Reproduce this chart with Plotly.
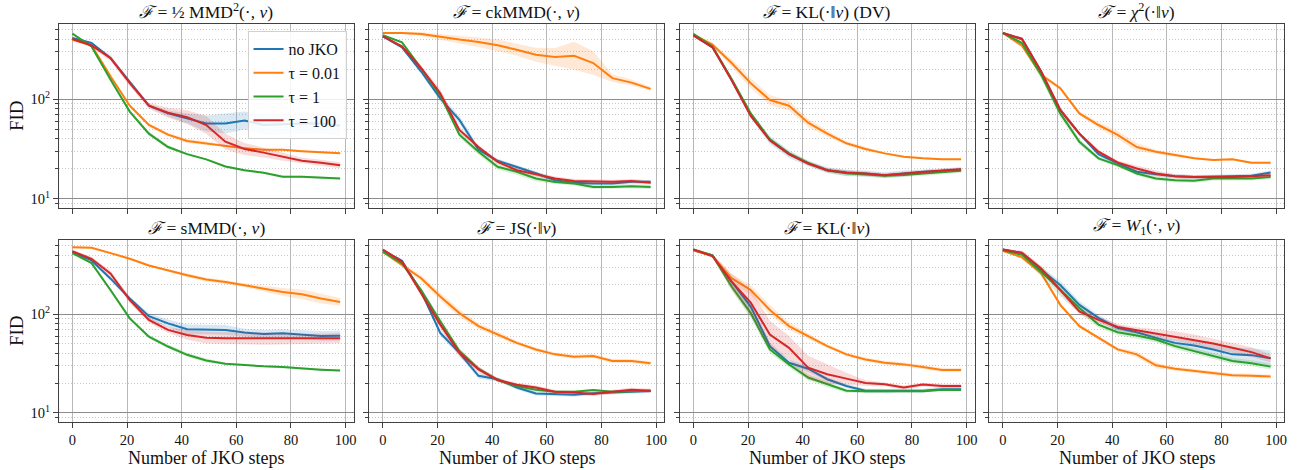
import plotly.graph_objects as go

# ---------------- data ----------------
steps = [0, 7, 14, 21, 28, 35, 42, 49, 56, 63, 70, 77, 84, 91, 98]
series_names = ["no JKO", "τ = 0.01", "τ = 1", "τ = 100"]
series_colors = ["#1f77b4", "#ff7f0e", "#2ca02c", "#d62728"]
band_colors = ["rgba(31,119,180,0.17)", "rgba(255,127,14,0.17)", "rgba(44,160,44,0.17)", "rgba(214,39,40,0.17)"]

panel_titles = [
    "<i>ℱ</i> = ½ MMD<sup>2</sup>(·, <i>ν</i>)",
    "<i>ℱ</i> = ckMMD(·, <i>ν</i>)",
    "<i>ℱ</i> = KL(·‖<i>ν</i>) (DV)",
    "<i>ℱ</i> = <i>χ</i><sup>2</sup>(·‖<i>ν</i>)",
    "<i>ℱ</i> = sMMD(·, <i>ν</i>)",
    "<i>ℱ</i> = JS(·‖<i>ν</i>)",
    "<i>ℱ</i> = KL(·‖<i>ν</i>)",
    "<i>ℱ</i> = <i>W</i><sub>1</sub>(·, <i>ν</i>)",
]

# FID values (mean) per panel and series
mmd2_nojko = [413, 368, 259, 151, 86, 72, 64, 57, 57, 61, 55, 56, 57, 57, 54]
mmd2_t001 = [397, 348, 169, 86, 55, 44, 38, 36, 34, 32, 31, 31, 30, 29, 28.5]
mmd2_t1 = [457, 340, 157, 75, 45, 33, 28, 24.8, 21, 19.3, 18.2, 16.6, 16.6, 16.2, 15.9]
mmd2_t100 = [404, 348, 259, 145, 86, 73, 66, 55, 37.4, 31.6, 29, 26.3, 24, 22.9, 21.6]

ckmmd_nojko = [430, 333, 190, 102, 62, 31, 24, 20.9, 18, 15.3, 14.4, 14.2, 14.2, 14.8, 14.8]
ckmmd_t001 = [464, 464, 454, 423, 398, 377, 349, 315, 280, 266, 274, 231, 163, 147, 127]
ckmmd_t1 = [440, 373, 205, 110, 44, 29.6, 20.9, 18.6, 15.9, 14.7, 14.2, 13.1, 13.1, 13.3, 13.1]
ckmmd_t100 = [430, 340, 205, 115, 49, 33, 23.4, 19.3, 17.6, 15.9, 15.0, 14.8, 14.8, 15.0, 14.4]

kldv_nojko = [440, 333, 157, 69.5, 38.8, 28, 22.6, 19.3, 18.2, 17.9, 17.2, 17.9, 18.6, 19, 19.6]
kldv_t001 = [447, 354, 231, 145, 98, 86, 58, 45, 36, 31.5, 28.5, 26.4, 25.4, 24.8, 24.8]
kldv_t1 = [455, 340, 160, 72, 39.5, 28.5, 22.8, 19.3, 18.0, 17.5, 17.0, 17.3, 17.8, 18.3, 19.0]
kldv_t100 = [440, 333, 155, 68, 38.5, 28, 22.5, 19.3, 18.3, 17.9, 17.2, 17.9, 18.6, 19.2, 19.7]

chi2_nojko = [464, 404, 190, 78, 45, 28, 22.6, 18.6, 17.6, 16.8, 16.5, 16.6, 16.8, 17.0, 18.3]
chi2_t001 = [464, 346, 176, 129, 72, 55, 43.7, 33, 29.6, 27.4, 25.4, 24.4, 24.8, 22.9, 22.9]
chi2_t1 = [464, 368, 176, 72, 37.3, 25.4, 21.7, 17.9, 15.9, 15.3, 15.1, 15.9, 15.9, 15.9, 16.5]
chi2_t100 = [464, 404, 190, 78, 45, 29.6, 23.1, 20.1, 17.9, 16.8, 16.5, 16.5, 16.5, 16.8, 17.2]

smmd_nojko = [430, 354, 231, 145, 96, 81, 70.5, 70.5, 69.5, 65.3, 63.3, 64.3, 62.8, 60.4, 60.8]
smmd_t001 = [483, 476, 420, 368, 315, 280, 250, 226, 214, 198, 183, 169, 160, 145, 134]
smmd_t1 = [420, 333, 176, 91, 59.4, 47.1, 38.8, 34, 31.5, 30.3, 29.6, 29.2, 28.1, 27.4, 26.8]
smmd_t100 = [439, 368, 259, 140, 88, 69.5, 61.8, 58, 57.2, 57.2, 56.4, 56.6, 56.4, 56.6, 57.2]

js_nojko = [450, 351, 171, 64.7, 40.6, 23.7, 21.9, 18, 15.7, 15.4, 15.2, 15.8, 16, 16.3, 16.6]
js_t001 = [433, 318, 233, 152, 103, 76, 62.4, 51.3, 44, 39.2, 37.1, 37.7, 33.5, 33.5, 31.8]
js_t1 = [433, 330, 177, 85, 42.3, 28, 21.5, 18.7, 17.1, 16.3, 16.3, 17, 16.3, 16.6, 16.7]
js_t100 = [457, 343, 164, 78.7, 40.6, 27.6, 21.5, 19.2, 18, 16.3, 16, 15.5, 16.3, 17.1, 16.7]

kl_nojko = [450, 398, 215, 120, 47.5, 32.2, 28, 21.9, 18.7, 16.7, 16.7, 16.7, 16.7, 17.3, 17.3]
kl_t001 = [450, 392, 233, 177, 111, 76, 60, 47.5, 39.2, 34.8, 32.2, 31, 29.2, 27.2, 27.2]
kl_t1 = [457, 398, 192, 103, 44, 31, 22.8, 19.5, 16.7, 16.5, 16.5, 16.7, 16.5, 17.1, 17]
kl_t100 = [457, 392, 215, 132, 62.4, 45.7, 28.7, 24.6, 22.2, 20, 19.5, 18, 19.3, 18.7, 18.7]

w1_nojko = [457, 423, 283, 199, 125, 92, 72.8, 65.8, 57.7, 51.3, 48.3, 44, 39.2, 38.5, 35.7]
w1_t001 = [443, 380, 262, 125, 76, 57.7, 44, 39.2, 30.3, 28, 26.5, 25.2, 24, 23.7, 23.3]
w1_t1 = [450, 404, 272, 177, 116, 78.7, 65.8, 60.9, 55.5, 47.5, 42.3, 37.7, 33.5, 31.8, 29.4]
w1_t100 = [457, 423, 294, 177, 107, 88, 74.5, 68.9, 63.8, 60, 55.5, 50.6, 45.7, 41.3, 35.7]

# half-width of the shaded band (log10 units)
mmd2_nojko_sd = [0.01, 0.01, 0.02, 0.02, 0.02, 0.03, 0.05, 0.08, 0.1, 0.09, 0.1, 0.1, 0.1, 0.1, 0.1]
mmd2_t001_sd = [0.01, 0.01, 0.02, 0.02, 0.02, 0.02, 0.02, 0.02, 0.01, 0.01, 0.01, 0.01, 0.01, 0.01, 0.01]
mmd2_t1_sd = [0.01, 0.01, 0.02, 0.02, 0.02, 0.02, 0.01, 0.01, 0.01, 0.01, 0.01, 0.01, 0.01, 0.01, 0.01]
mmd2_t100_sd = [0.01, 0.02, 0.03, 0.03, 0.03, 0.05, 0.07, 0.09, 0.08, 0.06, 0.05, 0.04, 0.03, 0.03, 0.03]

ckmmd_nojko_sd = [0.01, 0.01, 0.02, 0.03, 0.04, 0.03, 0.02, 0.02, 0.02, 0.02, 0.02, 0.02, 0.02, 0.02, 0.02]
ckmmd_t001_sd = [0.01, 0.01, 0.02, 0.03, 0.04, 0.05, 0.06, 0.06, 0.07, 0.09, 0.14, 0.12, 0.04, 0.03, 0.02]
ckmmd_t1_sd = [0.01, 0.01, 0.02, 0.03, 0.03, 0.03, 0.03, 0.03, 0.03, 0.02, 0.02, 0.02, 0.02, 0.02, 0.02]
ckmmd_t100_sd = [0.01, 0.01, 0.03, 0.04, 0.03, 0.02, 0.02, 0.02, 0.02, 0.02, 0.02, 0.02, 0.02, 0.02, 0.02]

kldv_nojko_sd = [0.01, 0.01, 0.02, 0.03, 0.04, 0.04, 0.03, 0.03, 0.03, 0.03, 0.03, 0.03, 0.02, 0.02, 0.02]
kldv_t001_sd = [0.01, 0.02, 0.04, 0.05, 0.05, 0.05, 0.04, 0.03, 0.02, 0.02, 0.01, 0.01, 0.01, 0.01, 0.01]
kldv_t1_sd = [0.01, 0.01, 0.02, 0.02, 0.02, 0.02, 0.02, 0.02, 0.03, 0.02, 0.02, 0.02, 0.02, 0.02, 0.02]
kldv_t100_sd = [0.01, 0.01, 0.02, 0.02, 0.02, 0.02, 0.02, 0.02, 0.02, 0.02, 0.02, 0.02, 0.02, 0.02, 0.02]

chi2_nojko_sd = [0.01, 0.01, 0.02, 0.02, 0.02, 0.02, 0.02, 0.02, 0.02, 0.02, 0.02, 0.02, 0.02, 0.02, 0.02]
chi2_t001_sd = [0.01, 0.02, 0.02, 0.02, 0.02, 0.03, 0.04, 0.04, 0.02, 0.02, 0.01, 0.01, 0.01, 0.01, 0.01]
chi2_t1_sd = [0.01, 0.02, 0.04, 0.04, 0.03, 0.02, 0.02, 0.02, 0.02, 0.02, 0.02, 0.02, 0.02, 0.02, 0.02]
chi2_t100_sd = [0.01, 0.02, 0.02, 0.03, 0.02, 0.02, 0.02, 0.03, 0.03, 0.02, 0.02, 0.02, 0.02, 0.02, 0.02]

smmd_nojko_sd = [0.01, 0.01, 0.02, 0.02, 0.03, 0.04, 0.05, 0.05, 0.05, 0.04, 0.04, 0.04, 0.04, 0.05, 0.05]
smmd_t001_sd = [0.01, 0.01, 0.01, 0.01, 0.01, 0.01, 0.02, 0.02, 0.02, 0.02, 0.03, 0.04, 0.05, 0.05, 0.04]
smmd_t1_sd = [0.01, 0.01, 0.02, 0.02, 0.02, 0.02, 0.02, 0.02, 0.01, 0.01, 0.01, 0.01, 0.01, 0.01, 0.01]
smmd_t100_sd = [0.01, 0.02, 0.03, 0.03, 0.03, 0.03, 0.05, 0.06, 0.06, 0.06, 0.06, 0.06, 0.05, 0.05, 0.05]

js_nojko_sd = [0.01, 0.01, 0.02, 0.03, 0.03, 0.03, 0.02, 0.02, 0.02, 0.02, 0.02, 0.02, 0.02, 0.02, 0.02]
js_t001_sd = [0.01, 0.02, 0.03, 0.04, 0.04, 0.03, 0.03, 0.02, 0.02, 0.02, 0.02, 0.02, 0.02, 0.02, 0.02]
js_t1_sd = [0.01, 0.01, 0.02, 0.03, 0.03, 0.02, 0.02, 0.02, 0.02, 0.01, 0.01, 0.01, 0.01, 0.01, 0.01]
js_t100_sd = [0.01, 0.02, 0.03, 0.04, 0.04, 0.03, 0.02, 0.02, 0.02, 0.02, 0.02, 0.02, 0.02, 0.02, 0.02]

kl_nojko_sd = [0.01, 0.01, 0.03, 0.04, 0.04, 0.03, 0.03, 0.02, 0.02, 0.02, 0.02, 0.02, 0.02, 0.02, 0.02]
kl_t001_sd = [0.01, 0.01, 0.04, 0.05, 0.05, 0.04, 0.03, 0.02, 0.02, 0.02, 0.02, 0.02, 0.02, 0.02, 0.02]
kl_t1_sd = [0.01, 0.01, 0.04, 0.05, 0.04, 0.03, 0.03, 0.03, 0.02, 0.02, 0.02, 0.01, 0.01, 0.01, 0.01]
kl_t100_sd = [0.01, 0.02, 0.08, 0.14, 0.14, 0.12, 0.12, 0.1, 0.06, 0.03, 0.02, 0.02, 0.02, 0.02, 0.02]

w1_nojko_sd = [0.01, 0.02, 0.03, 0.04, 0.04, 0.03, 0.03, 0.03, 0.03, 0.04, 0.05, 0.06, 0.07, 0.07, 0.08]
w1_t001_sd = [0.01, 0.01, 0.02, 0.02, 0.02, 0.02, 0.02, 0.03, 0.03, 0.02, 0.02, 0.02, 0.02, 0.02, 0.02]
w1_t1_sd = [0.01, 0.02, 0.05, 0.06, 0.05, 0.03, 0.03, 0.03, 0.03, 0.03, 0.03, 0.03, 0.03, 0.03, 0.03]
w1_t100_sd = [0.01, 0.02, 0.03, 0.03, 0.03, 0.03, 0.03, 0.03, 0.04, 0.05, 0.05, 0.05, 0.05, 0.05, 0.04]

x_tickvals = [0, 20, 40, 60, 80, 100]
y_tickvals = [10, 100]
y_ticktext = ["10<sup>1</sup>", "10<sup>2</sup>"]
y_minor = [8, 9, 20, 30, 40, 50, 60, 70, 80, 90, 200, 300, 400, 500]

panels = [
    [mmd2_nojko, mmd2_t001, mmd2_t1, mmd2_t100],
    [ckmmd_nojko, ckmmd_t001, ckmmd_t1, ckmmd_t100],
    [kldv_nojko, kldv_t001, kldv_t1, kldv_t100],
    [chi2_nojko, chi2_t001, chi2_t1, chi2_t100],
    [smmd_nojko, smmd_t001, smmd_t1, smmd_t100],
    [js_nojko, js_t001, js_t1, js_t100],
    [kl_nojko, kl_t001, kl_t1, kl_t100],
    [w1_nojko, w1_t001, w1_t1, w1_t100],
]
spreads = [
    [mmd2_nojko_sd, mmd2_t001_sd, mmd2_t1_sd, mmd2_t100_sd],
    [ckmmd_nojko_sd, ckmmd_t001_sd, ckmmd_t1_sd, ckmmd_t100_sd],
    [kldv_nojko_sd, kldv_t001_sd, kldv_t1_sd, kldv_t100_sd],
    [chi2_nojko_sd, chi2_t001_sd, chi2_t1_sd, chi2_t100_sd],
    [smmd_nojko_sd, smmd_t001_sd, smmd_t1_sd, smmd_t100_sd],
    [js_nojko_sd, js_t001_sd, js_t1_sd, js_t100_sd],
    [kl_nojko_sd, kl_t001_sd, kl_t1_sd, kl_t100_sd],
    [w1_nojko_sd, w1_t001_sd, w1_t1_sd, w1_t100_sd],
]

# ---------------- layout geometry (page body margin removed below) ----------------
W, H = 1299, 470
ML, MT = 59, 24
MR = W - 1286
MB = H - 422
PW = W - ML - MR
PH = H - MT - MB
col_px = [59, 370, 681, 991]
panel_w = 295
row_px = [(24, 208), (240, 422)]

FONT = "Liberation Serif, DejaVu Serif, serif"
fig = go.Figure()
layout_axes = {}
annotations = []

for i in range(8):
    r, c = divmod(i, 4)
    n = i + 1
    xa = "x" if n == 1 else f"x{n}"
    ya = "y" if n == 1 else f"y{n}"
    xd = [(col_px[c] - ML) / PW, (col_px[c] + panel_w - ML) / PW]
    top, bot = row_px[r]
    yd = [(H - MB - bot) / PH, (H - MB - top) / PH]
    for s in range(4):
        vals = panels[i][s]
        sd = spreads[i][s]
        upper = [v * 10 ** d for v, d in zip(vals, sd)]
        lower = [v / 10 ** d for v, d in zip(vals, sd)]
        fig.add_trace(go.Scatter(
            x=steps + steps[::-1], y=upper + lower[::-1], fill="toself",
            fillcolor=band_colors[s], line=dict(width=0), mode="lines",
            hoverinfo="skip", showlegend=False, xaxis=xa, yaxis=ya))
        fig.add_trace(go.Scatter(
            x=steps, y=vals, mode="lines", name=series_names[s],
            line=dict(color=series_colors[s], width=2),
            showlegend=(i == 0), xaxis=xa, yaxis=ya))
    common_line = dict(showline=True, mirror=True, linecolor="#404040", linewidth=1,
                       ticks="outside", tickcolor="#404040", ticklen=5, tickwidth=1,
                       zeroline=False, tickfont=dict(family=FONT, size=14.5, color="#111"))
    layout_axes["xaxis" if n == 1 else f"xaxis{n}"] = dict(
        domain=xd, anchor=ya,
        range=[-4.9, 102.9], tickmode="array", tickvals=x_tickvals,
        showticklabels=(r == 1), showgrid=True, gridcolor="#b8b8b8", gridwidth=1,
        **common_line)
    layout_axes["yaxis" if n == 1 else f"yaxis{n}"] = dict(
        domain=yd, anchor=xa, type="log", range=[0.905, 2.757],
        tickmode="array", tickvals=y_tickvals, ticktext=y_ticktext,
        showticklabels=(c == 0), showgrid=True, gridcolor="#8c8c8c", gridwidth=1,
        minor=dict(tickmode="array", tickvals=y_minor, ticks="outside", ticklen=3,
                   tickcolor="#404040", showgrid=True, gridcolor="#c8c8c8",
                   griddash="1px,2px", gridwidth=1),
        **common_line)
    annotations.append(dict(
        text=panel_titles[i], x=(xd[0] + xd[1]) / 2, y=yd[1], xref="paper", yref="paper",
        xanchor="center", yanchor="bottom", yshift=0, showarrow=False,
        font=dict(family=FONT, size=17.5, color="#111")))
    if r == 1:
        annotations.append(dict(
            text="Number of JKO steps", x=(xd[0] + xd[1]) / 2, y=0, xref="paper", yref="paper",
            xanchor="center", yanchor="top", yshift=-24, showarrow=False,
            font=dict(family=FONT, size=18, color="#111")))
    if c == 0:
        annotations.append(dict(
            text="FID", x=(16 - ML) / PW, y=(yd[0] + yd[1]) / 2, xref="paper", yref="paper",
            xanchor="center", yanchor="middle", textangle=-90, showarrow=False,
            font=dict(family=FONT, size=19, color="#111")))

fig.update_layout(
    width=W, height=H,
    margin=dict(l=ML, r=MR, t=MT, b=MB),
    plot_bgcolor="white", paper_bgcolor="white",
    font=dict(family=FONT, color="#111"),
    annotations=annotations,
    legend=dict(x=(347 - ML) / PW, y=(H - MB - 31) / PH, xanchor="right", yanchor="top",
                bgcolor="rgba(255,255,255,0.85)", bordercolor="#d0d0d0", borderwidth=1,
                font=dict(family=FONT, size=16, color="#111"), itemwidth=30,
                tracegroupgap=0),
    **layout_axes,
)

fig.write_html("out.html", config={"displayModeBar": False},
               post_script="document.body.style.margin='0px';document.body.style.overflow='hidden';")
